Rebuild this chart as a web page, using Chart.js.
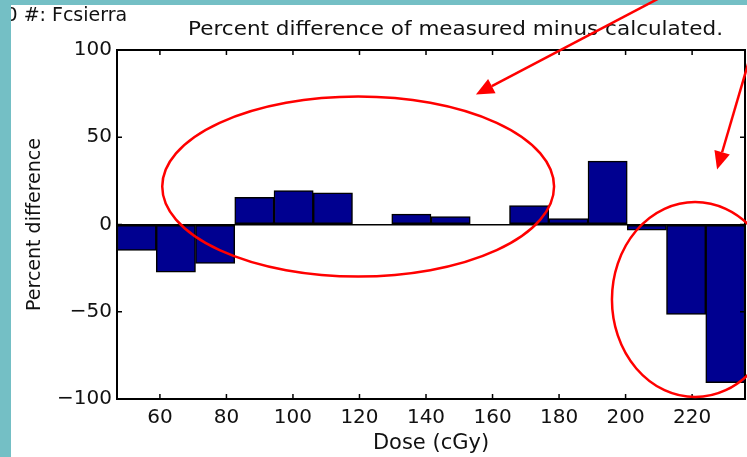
<!DOCTYPE html>
<html>
<head>
<meta charset="utf-8">
<script src="https://cdn.jsdelivr.net/npm/chart.js@4.4.1/dist/chart.umd.min.js"></script>
<style>
  html, body { margin: 0; padding: 0; background: #fff; }
  #chart { display: block; }
</style>
</head>
<body>
<canvas id="chart" width="747" height="457"></canvas>
<script>
// histogram bins (dose, cGy) and percent difference per bin
var binCenters = [53.0, 64.8, 76.6, 88.4, 100.2, 112.0, 123.8, 135.6, 147.4, 159.2, 171.0, 182.8, 194.6, 206.4, 218.2, 230.0];
var percentDiff = [-14.9, -27.3, -22.3, 15.6, 19.5, 18.2, 0, 5.9, 4.6, 0, 10.9, 3.4, 36.3, -3.3, -51.6, -90.7];
var xTicks = [60, 80, 100, 120, 140, 160, 180, 200, 220];
var yTicks = [-100, -50, 0, 50, 100];
var xMin = 47.1, xMax = 235.9;

var titleText = 'Percent difference of measured minus calculated.';
var headerText = '0 #: Fcsierra';

// red hand-drawn marks, in data units
var ellipses = [
  { x: 119.6, y: 21.8, rx: 58.9, ry: 51.6 },
  { x: 220.9, y: -43, rx: 25, ry: 55.9 }
];
var arrows = [
  { fromX: 222.4, fromY: 142, toX: 155.0, toY: 74.5 },
  { fromX: 241, fromY: 119.2, toX: 227.5, toY: 31.5 }
];

var font = "'DejaVu Sans', sans-serif";

var decorPlugin = {
  id: 'decor',
  afterDraw: function(chart) {
    var ctx = chart.ctx;
    var a = chart.chartArea;
    var xs = chart.scales.x, ys = chart.scales.y;
    ctx.save();

    // box + inward ticks
    ctx.strokeStyle = '#000';
    ctx.lineWidth = 2;
    ctx.beginPath();
    ctx.moveTo(a.left, a.top); ctx.lineTo(a.right, a.top); ctx.lineTo(a.right, a.bottom);
    ctx.stroke();
    ctx.lineWidth = 1.5;
    ctx.beginPath();
    xTicks.forEach(function(v) {
      var px = xs.getPixelForValue(v);
      ctx.moveTo(px, a.bottom); ctx.lineTo(px, a.bottom - 5);
      ctx.moveTo(px, a.top); ctx.lineTo(px, a.top + 5);
    });
    yTicks.forEach(function(v) {
      var py = ys.getPixelForValue(v);
      ctx.moveTo(a.left, py); ctx.lineTo(a.left + 5, py);
      ctx.moveTo(a.right, py); ctx.lineTo(a.right - 5, py);
    });
    ctx.stroke();

    // header texts
    ctx.fillStyle = '#111';
    ctx.textBaseline = 'alphabetic';
    ctx.font = '19px ' + font;
    ctx.textAlign = 'left';
    ctx.fillText(headerText, 5.5, 21);
    var w = ctx.measureText(titleText).width;
    ctx.save();
    ctx.translate(188, 35);
    ctx.scale(535 / w, 1);
    ctx.fillText(titleText, 0, 0);
    ctx.restore();

    // teal frame
    ctx.fillStyle = '#74bfc5';
    ctx.fillRect(0, 0, 11, chart.height);
    ctx.fillRect(0, 0, chart.width, 5);

    // red annotations
    ctx.strokeStyle = '#ff0000';
    ctx.fillStyle = '#ff0000';
    ctx.lineWidth = 2.5;
    ellipses.forEach(function(e) {
      var cx = xs.getPixelForValue(e.x), cy = ys.getPixelForValue(e.y);
      var rx = Math.abs(xs.getPixelForValue(e.x + e.rx) - cx);
      var ry = Math.abs(ys.getPixelForValue(e.y + e.ry) - cy);
      ctx.beginPath();
      ctx.ellipse(cx, cy, rx, ry, 0, 0, Math.PI * 2);
      ctx.stroke();
    });
    arrows.forEach(function(r) {
      var x1 = xs.getPixelForValue(r.fromX), y1 = ys.getPixelForValue(r.fromY);
      var x2 = xs.getPixelForValue(r.toX), y2 = ys.getPixelForValue(r.toY);
      var ang = Math.atan2(y2 - y1, x2 - x1);
      var len = 18, half = 8;
      var bx = x2 - len * Math.cos(ang), by = y2 - len * Math.sin(ang);
      ctx.beginPath();
      ctx.moveTo(x1, y1); ctx.lineTo(bx, by);
      ctx.stroke();
      ctx.beginPath();
      ctx.moveTo(x2, y2);
      ctx.lineTo(bx + half * Math.sin(ang), by - half * Math.cos(ang));
      ctx.lineTo(bx - half * Math.sin(ang), by + half * Math.cos(ang));
      ctx.closePath();
      ctx.fill();
    });
    ctx.restore();
  }
};

var ctx = document.getElementById('chart').getContext('2d');
var chart = new Chart(ctx, {
  type: 'bar',
  data: {
    datasets: [{
      data: binCenters.map(function(x, i) { return { x: x, y: percentDiff[i] }; }),
      backgroundColor: '#000090',
      borderColor: '#000',
      borderWidth: 1.5,
      borderSkipped: false,
      barPercentage: 1,
      categoryPercentage: 1
    }]
  },
  options: {
    responsive: false,
    animation: false,
    layout: { padding: { left: 11, top: 50, right: 2, bottom: 0 } },
    plugins: { legend: { display: false }, tooltip: { enabled: false } },
    scales: {
      x: {
        type: 'linear',
        min: xMin,
        max: xMax,
        offset: false,
        afterBuildTicks: function(s) { s.ticks = xTicks.map(function(v) { return { value: v }; }); },
        afterFit: function(s) { s.height = 58; },
        grid: { display: false, drawTicks: false, offset: false },
        border: { display: true, color: '#000', width: 2 },
        ticks: { color: '#111', font: { family: font, size: 20 }, padding: 7, maxRotation: 0 },
        title: { display: true, text: 'Dose (cGy)', color: '#111', font: { family: font, size: 21 }, padding: { top: 0, bottom: 1 } }
      },
      y: {
        min: -100,
        max: 100,
        afterBuildTicks: function(s) { s.ticks = yTicks.map(function(v) { return { value: v }; }); },
        afterFit: function(s) { s.width = 106; },
        grid: {
          drawTicks: false,
          color: function(c) { return c.tick && c.tick.value === 0 ? '#000' : 'rgba(0,0,0,0)'; },
          lineWidth: 1.5
        },
        border: { display: true, color: '#000', width: 2 },
        ticks: {
          color: '#111',
          font: { family: font, size: 20 },
          padding: 5,
          callback: function(v) { return String(v).replace('-', '\u2212'); }
        },
        title: { display: true, text: 'Percent difference', color: '#111', font: { family: font, size: 19 }, padding: { top: 13, bottom: 0 } }
      }
    }
  },
  plugins: [decorPlugin]
});
</script>
</body>
</html>
